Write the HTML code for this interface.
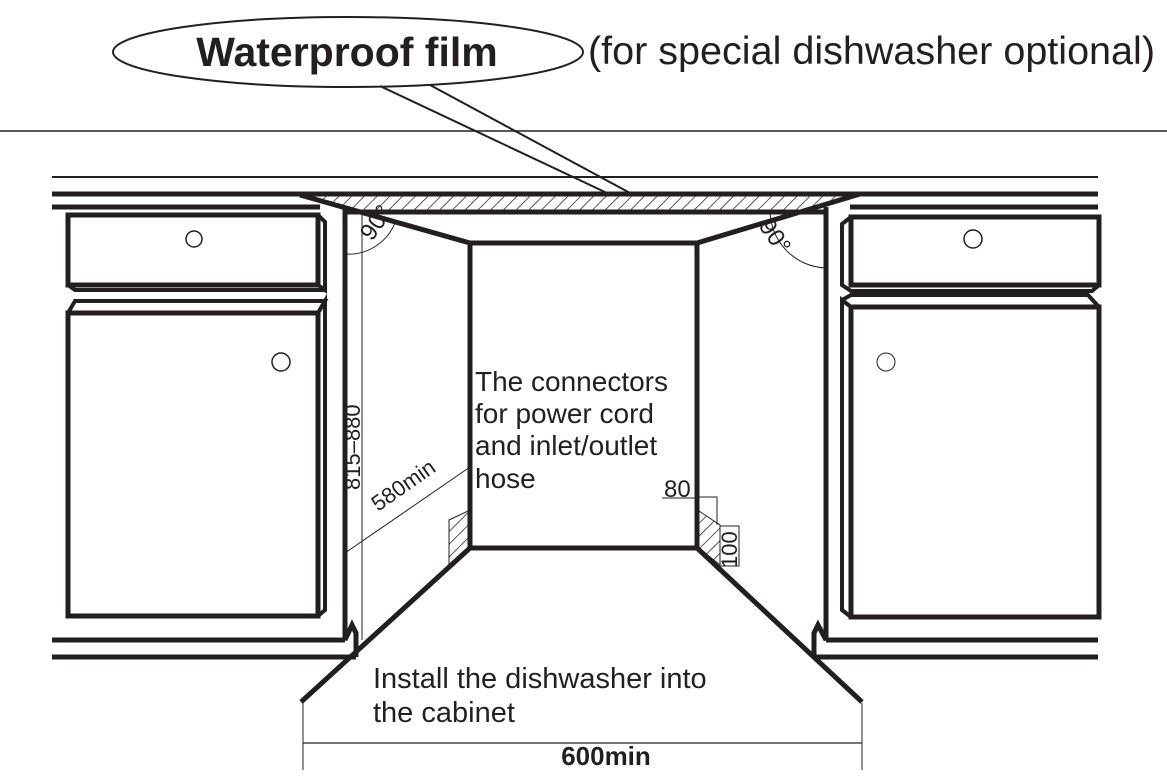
<!DOCTYPE html>
<html><head><meta charset="utf-8"><style>
html,body{margin:0;padding:0;background:#fff;}
svg{display:block;}
text{font-family:"Liberation Sans",Arial,sans-serif;fill:#231f20;}
</style></head><body>
<svg width="1167" height="777" viewBox="0 0 1167 777" xmlns="http://www.w3.org/2000/svg">
<defs>
<pattern id="h" width="9" height="9" patternUnits="userSpaceOnUse" patternTransform="rotate(45)">
<line x1="0" y1="0" x2="0" y2="9" stroke="#231f20" stroke-width="1.5"/>
</pattern>
</defs>
<g stroke="#231f20" fill="none">
<ellipse cx="348" cy="52" rx="235" ry="35" stroke-width="2"/>
<line x1="380" y1="86" x2="607" y2="193" stroke-width="2"/>
<line x1="430" y1="85" x2="630" y2="193" stroke-width="2"/>
<line x1="0" y1="131" x2="1167" y2="131" stroke-width="1.5"/>
<line x1="52" y1="177" x2="1098" y2="177" stroke-width="2"/>
<line x1="52" y1="194" x2="1098" y2="194" stroke-width="5"/>
<line x1="52" y1="207" x2="320" y2="207" stroke-width="5"/>
<line x1="850" y1="207" x2="1098" y2="207" stroke-width="5"/>
<polygon points="300,195 860,195 805,212 350,212" fill="url(#h)" stroke="none"/>
<line x1="345" y1="212" x2="825" y2="212" stroke-width="5"/>
<polyline points="300,195 470,243 697,243 860,194" stroke-width="5"/>
<rect x="470" y="243" width="227" height="305" stroke-width="5"/>
<line x1="470" y1="548" x2="301" y2="702" stroke-width="5"/>
<line x1="697" y1="548" x2="862" y2="702" stroke-width="5"/>
<polygon points="449,520 468,511 468,548 449,565" fill="url(#h)" stroke-width="1"/>
<polygon points="699,511 720,525 720,565 699,548" fill="url(#h)" stroke-width="1"/>
<polyline points="345,207 345,640 352,625 356,633 356,657" stroke-width="5"/>
<polyline points="826,207 826,640 818,625 814,633 814,657" stroke-width="5"/>
<line x1="52" y1="640" x2="345" y2="640" stroke-width="5"/>
<line x1="52" y1="657" x2="356" y2="657" stroke-width="5"/>
<line x1="826" y1="640" x2="1098" y2="640" stroke-width="5"/>
<line x1="814" y1="657" x2="1098" y2="657" stroke-width="5"/>
<rect x="68" y="215" width="250" height="70" stroke-width="5"/>
<polyline points="318,215 325,222 325,290 318,285" stroke-width="4"/>
<polyline points="68,285 75,290 325,290" stroke-width="4"/>
<rect x="68" y="313" width="250" height="303" stroke-width="5"/>
<polyline points="68,313 75,301 325,301 318,313" stroke-width="4"/>
<polyline points="318,313 325,301 325,610 318,616" stroke-width="4"/>
<circle cx="194" cy="239" r="8" stroke-width="1.5"/>
<circle cx="281" cy="362" r="9" stroke-width="1.5"/>
<rect x="851" y="217" width="248" height="68" stroke-width="5"/>
<polyline points="851,217 842,224 842,285 851,291 1092,291 1099,285" stroke-width="4"/>
<rect x="851" y="307" width="248" height="310" stroke-width="5"/>
<polyline points="851,307 842,300 842,610 851,617" stroke-width="4"/>
<polyline points="842,300 851,295 1088,295 1099,307" stroke-width="4"/>
<circle cx="973" cy="239" r="9" stroke-width="1.5"/>
<circle cx="886" cy="362" r="9" stroke-width="1"/>
<line x1="362" y1="215" x2="362" y2="640" stroke-width="1"/>
<line x1="345" y1="553" x2="470" y2="467" stroke-width="1"/>
<path d="M345,254 A50,50 0 0 0 396,220" stroke-width="1"/>
<path d="M826,268 A58,58 0 0 1 770,210" stroke-width="1"/>
<line x1="303" y1="703" x2="303" y2="770" stroke-width="1"/>
<line x1="862" y1="703" x2="862" y2="770" stroke-width="1"/>
<line x1="303" y1="743" x2="862" y2="743" stroke-width="1.2"/>
<polyline points="662,498 697,498" stroke-width="1"/>
<polyline points="697,497 717,497 717,525" stroke-width="1"/>
<rect x="720" y="526" width="19" height="40" stroke-width="1"/>
</g>
<text x="347" y="66" font-size="41" font-weight="bold" text-anchor="middle">Waterproof film</text>
<text x="588" y="64" font-size="39" textLength="567" lengthAdjust="spacingAndGlyphs">(for special dishwasher optional)</text>
<text font-size="28" x="475" y="391">The connectors</text>
<text font-size="28" x="475" y="423">for power cord</text>
<text font-size="28" x="475" y="455">and inlet/outlet</text>
<text font-size="28" x="475" y="488">hose</text>
<text font-size="29" x="373" y="688">Install the dishwasher into</text>
<text font-size="29" x="373" y="722">the cabinet</text>
<text font-size="26" font-weight="bold" x="606" y="765" text-anchor="middle">600min</text>
<text font-size="24" x="664" y="497">80</text>
<text font-size="22" transform="translate(360,490) rotate(-90)">815–880</text>
<text font-size="22" transform="translate(378,512) rotate(-35)">580min</text>
<text font-size="22" transform="translate(737,568) rotate(-90)">100</text>
<text font-size="24" transform="translate(372,242) rotate(-55)">90°</text>
<text font-size="24" transform="translate(758,226) rotate(55)">90°</text>
</svg>
</body></html>
